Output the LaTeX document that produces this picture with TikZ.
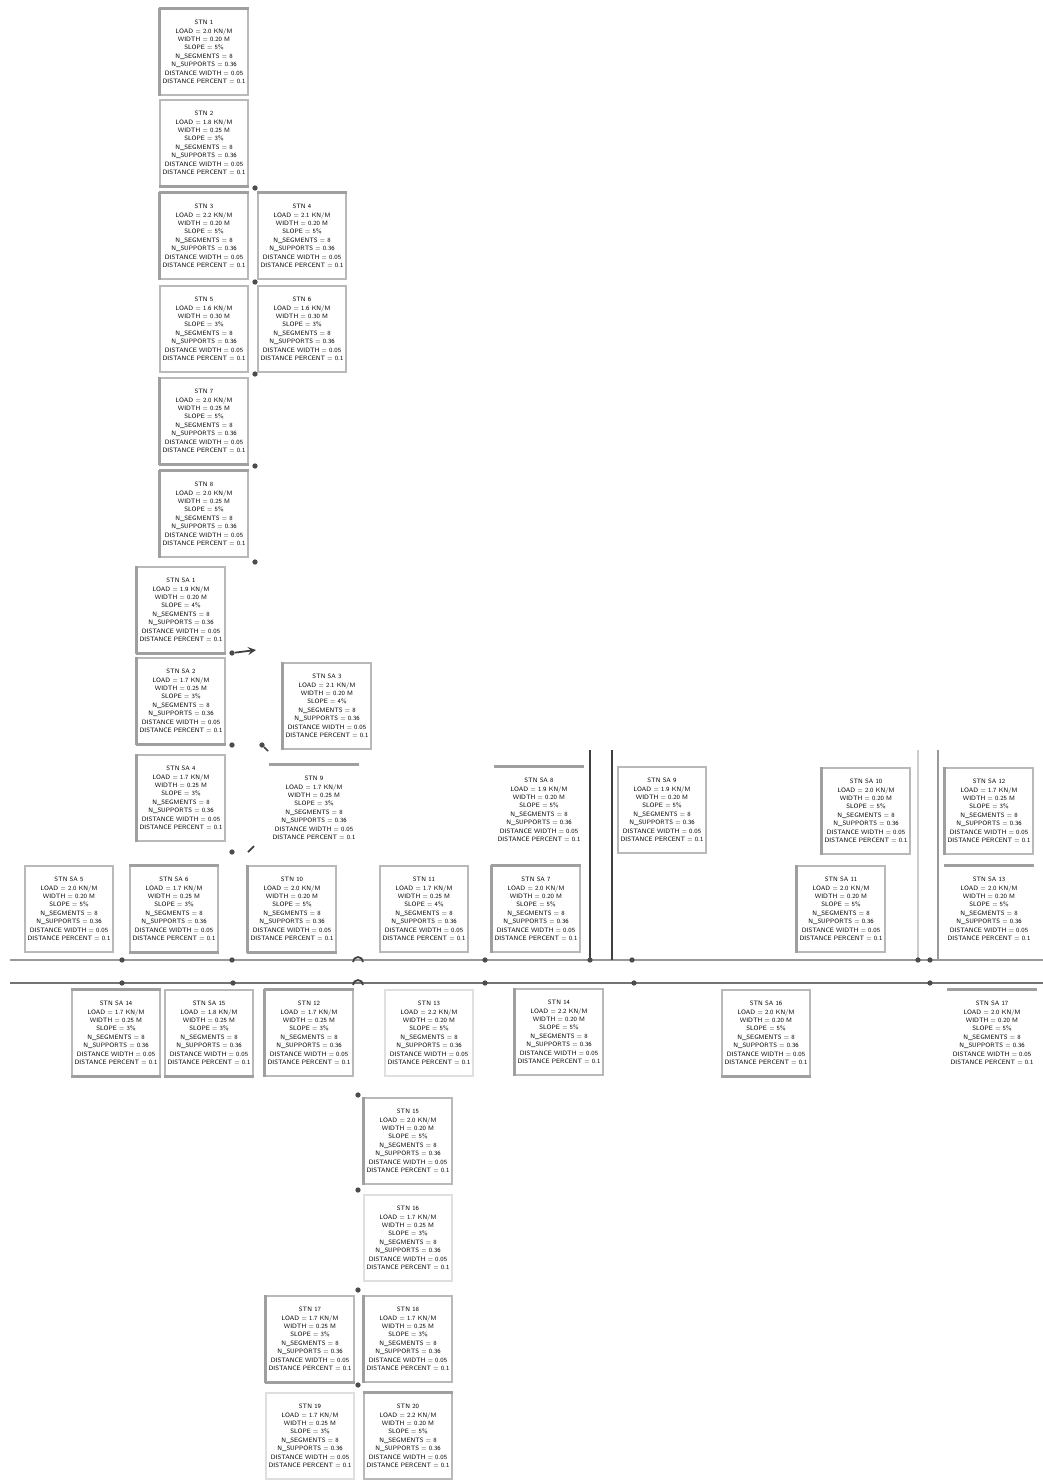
\documentclass[tikz,border=0pt]{standalone}
\usepackage{tikz}
\newcommand{\stnlines}[4]{#1\\LOAD = #2 KN/M\\WIDTH = #3 M\\SLOPE = #4\%\\N\_SEGMENTS = 8\\N\_SUPPORTS = 0.36\\DISTANCE WIDTH = 0.05\\DISTANCE PERCENT = 0.1}

\begin{document}
\begin{tikzpicture}[x=0.02cm,y=-0.02cm,>=stealth,
  panel/.style={draw=gray!55,line width=0.6pt,fill=white,minimum width=1.76cm,minimum height=1.72cm,inner sep=1pt,align=center,font=\sffamily\fontsize{3.6}{4.8}\selectfont},
  bus/.style={gray!80,line width=1.3pt},
  post/.style={black!75,line width=1pt},
  joint/.style={circle,fill=black!70,inner sep=0pt,minimum size=3pt}]
  \useasboundingbox (0,0) rectangle (1043,1483);
  % upper column
  \node[panel] (b1) at (204,52) {\stnlines{STN 1}{2.0}{0.20}{5}};
  \node[panel] (b2) at (204,143) {\stnlines{STN 2}{1.8}{0.25}{3}};
  \node[panel] (b3) at (204,236) {\stnlines{STN 3}{2.2}{0.20}{5}};
  \node[panel] (b4) at (302,236) {\stnlines{STN 4}{2.1}{0.20}{5}};
  \node[panel] (b5) at (204,329) {\stnlines{STN 5}{1.6}{0.30}{3}};
  \node[panel] (b6) at (302,329) {\stnlines{STN 6}{1.6}{0.30}{3}};
  \node[panel] (b7) at (204,421) {\stnlines{STN 7}{2.0}{0.25}{5}};
  \node[panel] (b8) at (204,514) {\stnlines{STN 8}{2.0}{0.25}{5}};
  \node[panel] (b9) at (181,610) {\stnlines{STN SA 1}{1.9}{0.20}{4}};
  \node[panel] (b10) at (181,701) {\stnlines{STN SA 2}{1.7}{0.25}{3}};
  \node[panel] (b11) at (327,706) {\stnlines{STN SA 3}{2.1}{0.20}{4}};
  \node[panel] (b12) at (181,798) {\stnlines{STN SA 4}{1.7}{0.25}{3}};
  \node[panel,draw=none] (b13) at (314,808) {\stnlines{STN 9}{1.7}{0.25}{3}};
  % row above the line
  \node[panel] (b14) at (69,909) {\stnlines{STN SA 5}{2.0}{0.20}{5}};
  \node[panel] (b15) at (174,909) {\stnlines{STN SA 6}{1.7}{0.25}{3}};
  \node[panel] (b16) at (292,909) {\stnlines{STN 10}{2.0}{0.20}{5}};
  \node[panel] (b17) at (424,909) {\stnlines{STN 11}{1.7}{0.25}{4}};
  \node[panel] (b18) at (536,909) {\stnlines{STN SA 7}{2.0}{0.20}{5}};
  \node[panel,draw=none] (b19) at (539,810) {\stnlines{STN SA 8}{1.9}{0.20}{5}};
  \node[panel] (b20) at (662,810) {\stnlines{STN SA 9}{1.9}{0.20}{5}};
  \node[panel] (b21) at (866,811) {\stnlines{STN SA 10}{2.0}{0.20}{5}};
  \node[panel] (b22) at (841,909) {\stnlines{STN SA 11}{2.0}{0.20}{5}};
  \node[panel] (b23) at (989,811) {\stnlines{STN SA 12}{1.7}{0.25}{3}};
  \node[panel,draw=none] (b24) at (989,909) {\stnlines{STN SA 13}{2.0}{0.20}{5}};
  % row below the line
  \node[panel] (b25) at (116,1033) {\stnlines{STN SA 14}{1.7}{0.25}{3}};
  \node[panel] (b26) at (209,1033) {\stnlines{STN SA 15}{1.8}{0.25}{3}};
  \node[panel] (b27) at (309,1033) {\stnlines{STN 12}{1.7}{0.25}{3}};
  \node[panel,draw=gray!25] (b28) at (429,1033) {\stnlines{STN 13}{2.2}{0.20}{5}};
  \node[panel] (b29) at (559,1032) {\stnlines{STN 14}{2.2}{0.20}{5}};
  \node[panel] (b30) at (766,1033) {\stnlines{STN SA 16}{2.0}{0.20}{5}};
  \node[panel,draw=none] (b31) at (992,1033) {\stnlines{STN SA 17}{2.0}{0.20}{5}};
  % lower column
  \node[panel] (b32) at (408,1141) {\stnlines{STN 15}{2.0}{0.20}{5}};
  \node[panel,draw=gray!25] (b33) at (408,1238) {\stnlines{STN 16}{1.7}{0.25}{3}};
  \node[panel] (b34) at (310,1339) {\stnlines{STN 17}{1.7}{0.25}{3}};
  \node[panel] (b35) at (408,1339) {\stnlines{STN 18}{1.7}{0.25}{3}};
  \node[panel,draw=gray!25] (b36) at (310,1436) {\stnlines{STN 19}{1.7}{0.25}{3}};
  \node[panel] (b37) at (408,1436) {\stnlines{STN 20}{2.2}{0.20}{5}};
  % heavier edges
  \foreach \n in {b1,b3,b7,b8,b9,b10,b11,b12,b16,b18,b21,b22,b23,b27,b29,b32,b34,b35}
    \draw[gray!75,line width=1.4pt] (\n.north west) -- (\n.south west);
  \foreach \n in {b2,b7,b9,b10,b15,b16,b25,b26,b30,b34}
    \draw[gray!75,line width=1.4pt] (\n.south west) -- (\n.south east);
  \foreach \n in {b1,b3,b4,b8,b13,b15,b18,b19,b24,b25,b27,b31,b37}
    \draw[gray!75,line width=1.4pt] (\n.north west) -- (\n.north east);
  % main lines
  \coordinate (busL) at (10,960);
  \coordinate (busR) at (1043,960);
  \coordinate (baseL) at (10,983);
  \coordinate (baseR) at (1043,983);
  \draw[bus] (busL) -- (busR);
  \draw[bus,black!55] (baseL) -- (baseR);
  % posts
  \coordinate (p1) at (590,750);
  \coordinate (p2) at (612,750);
  \coordinate (p3) at (918,750);
  \coordinate (p4) at (938,750);
  \draw[post] (p1) -- (p1 |- busL);
  \draw[post] (p2) -- (p2 |- busL);
  \draw[gray!40,line width=0.6pt] (p3) -- (p3 |- busL);
  \draw[gray!80,line width=1pt] (p4) -- (p4 |- busL);
  % joints
  \foreach \p [count=\i] in {(255,188),(255,282),(255,374),(255,466),(255,562),
      (232,653),(232,745),(262,745),(232,852),(122,960),(232,960),(485,960),
      (590,960),(632,960),(918,960),(930,960),(122,983),(233,983),(485,983),
      (634,983),(930,983),(358,1095),(358,1190),(358,1290),(358,1385)}
    \node[joint] (j\i) at \p {};
  % arches on the line
  \draw[post] (353,962) arc (180:360:5);
  \draw[post] (353,985) arc (180:360:5);
  % small links
  \draw[post,->] (j6) -- ++(24,-3);
  \draw[post] (j8) -- ++(6,6);
  \draw[post] (j9) ++(16,0) -- ++(6,-6);
\end{tikzpicture}
\end{document}
